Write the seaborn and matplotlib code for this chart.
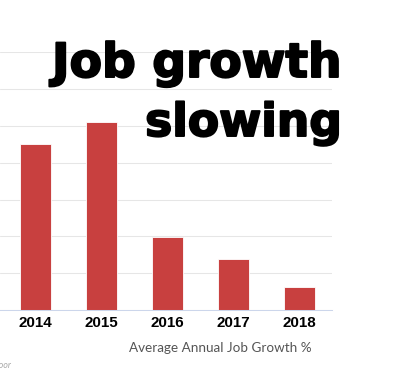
import matplotlib.pyplot as plt
import matplotlib.patheffects as pe
import seaborn as sns
import pandas as pd
import numpy as np

# data
years = ['2014', '2015', '2016', '2017', '2018']
growth = [2.25, 2.55, 0.99, 0.69, 0.31]
grid_ticks = [0, 0.5, 1.0, 1.5, 2.0, 2.5, 3.0, 3.5]

df = pd.DataFrame({'year': years, 'growth': growth})

sns.set_style('white')

W, H = 394, 389
fig = plt.figure(figsize=(W / 100, H / 100), dpi=100)
# plot area: left edge cut off by the crop
ax = fig.add_axes([0, (H - 310) / H, 332 / W, (310 - 52.3) / H])

sns.barplot(data=df, x='year', y='growth', color='#c8403f', width=0.47,
            edgecolor='white', linewidth=0.6, saturation=1, ax=ax)

ax.set_xlim(-0.537, 4.5)
ax.set_ylim(0, 3.5)
ax.set_yticks(grid_ticks)
ax.set_yticklabels([])
ax.tick_params(axis='y', length=0)
ax.grid(axis='y', color='#e6e6e6', linewidth=0.75)
ax.set_axisbelow(True)

for s in ['top', 'right', 'left']:
    ax.spines[s].set_visible(False)
ax.spines['bottom'].set_color('#ccd6eb')
ax.spines['bottom'].set_linewidth(0.75)

# tick marks between categories, labels at centers
ax.set_xticks(np.arange(-0.5, 4.6, 1), minor=True)
ax.tick_params(axis='x', which='minor', length=5, width=0.75, color='#ccd6eb')
ax.tick_params(axis='x', which='major', length=0, pad=4)
for lab in ax.get_xticklabels():
    lab.set_fontfamily('Liberation Sans')
    lab.set_fontweight('bold')
    lab.set_fontsize(10.9)
    lab.set_color('black')
ax.set_xlabel('')
ax.set_ylabel('')

fig.text(220 / W, 1 - 348 / H, 'Average Annual Job Growth %', ha='center', va='center',
         fontsize=9.7, family='Lato', color='#555555')
fig.text(11 / W, 1 - 365 / H, 'Source: Glassdoor', ha='right', va='center',
         fontsize=6.5, style='italic', family='Lato', color='#aaaaaa')

# heavy headline, a thin stroke makes it closer to the black weight
heavy = [pe.withStroke(linewidth=1.4, foreground='black')]
fig.text(342 / W, 1 - 77 / H, 'Job growth', ha='right', va='baseline',
         fontsize=34, fontweight='bold', family='DejaVu Sans', color='black',
         path_effects=heavy)
fig.text(342 / W, 1 - 136 / H, 'slowing', ha='right', va='baseline',
         fontsize=32.8, fontweight='bold', family='DejaVu Sans', color='black',
         path_effects=heavy)

fig.savefig('out.png', dpi=100)
